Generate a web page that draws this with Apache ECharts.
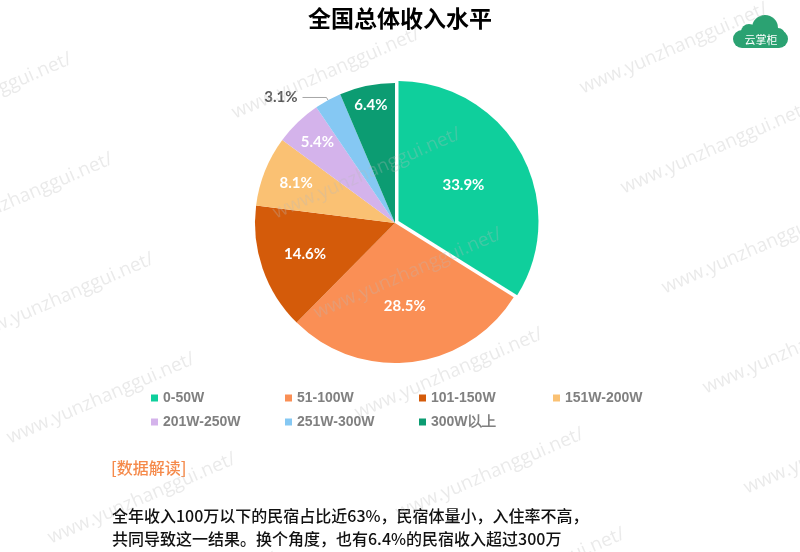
<!DOCTYPE html>
<html>
<head>
<meta charset="utf-8">
<script src="https://cdn.jsdelivr.net/npm/echarts@6/dist/echarts.min.js"></script>
<style>html,body{margin:0;padding:0;background:#fff;}#c{width:800px;height:552px;}</style>
</head>
<body>
<div id="c"></div>
<script>
// ---- data ----
var categories = ['0-50W', '51-100W', '101-150W', '151W-200W', '201W-250W', '251W-300W', '300W以上'];
var shares = [33.9, 28.5, 14.6, 8.1, 5.4, 3.1, 6.4];
var titleText = '全国总体收入水平';
var noteHeading = '[数据解读]';
var noteLines = ['全年收入100万以下的民宿占比近63%，民宿体量小，入住率不高，', '共同导致这一结果。换个角度，也有6.4%的民宿收入超过300万'];
var watermarkText = 'www.yunzhanggui.net/';

// ---- style ----
var colors = ['#0fcf9c', '#fa8f55', '#d45b0a', '#fac173', '#d4b3eb', '#85c8f3', '#0c9c72'];
var outsideIndex = 5;
var labelRadiusRatio = [0.53, 0.6, 0.68, 0.76, 0.8, null, 0.86];
var pieCenter = [395, 223];
var pieRadius = 140;

var chart = echarts.init(document.getElementById('c'), null, {renderer: 'canvas'});

var dataItems = categories.map(function (name, i) {
  var item = {name: name, value: shares[i], itemStyle: {color: colors[i]}};
  if (i === 0) item.selected = true;
  if (i === outsideIndex) {
    item.label = {position: 'outside', color: '#595959'};
    item.labelLine = {show: true, length: 3, length2: 24, lineStyle: {color: '#a6a6a6', width: 1}};
  }
  return item;
});

// watermark lattice
var wm = [];
var A = [460, 133], U = [348, -25], V = [41, 100];
for (var i = -1; i <= 2; i++) {
  for (var j = -2; j <= 5; j++) {
    var ex = A[0] + i * U[0] + j * V[0];
    var ey = A[1] + i * U[1] + j * V[1];
    if (ex < -20 || ey < -10 || ey > 760 || ex - 200 > 820) continue;
    wm.push({
      type: 'text', x: ex, y: ey, rotation: 0.41, z: 100, silent: true,
      style: {text: watermarkText, fill: 'rgba(185,185,185,0.3)', font: '19px "Open Sans"', textAlign: 'right', textVerticalAlign: 'middle'}
    });
  }
}

var graphics = [
  {type: 'text', left: 111, top: 460, style: {text: noteHeading, fill: '#f58a4b', font: '500 16px "Noto Sans CJK SC"'}},
  {type: 'text', left: 112, top: 508, style: {text: noteLines[0], fill: '#111', font: '500 16px "Noto Sans CJK SC"'}},
  {type: 'text', left: 112, top: 531, style: {text: noteLines[1], fill: '#111', font: '500 16px "Noto Sans CJK SC"'}},
  {type: 'group', left: 733, top: 15, children: [
    {type: 'rect', shape: {x: 0, y: 16, width: 55, height: 18, r: 9}, style: {fill: '#2ba272'}},
    {type: 'circle', shape: {cx: 16, cy: 18, r: 8}, style: {fill: '#2ba272'}},
    {type: 'circle', shape: {cx: 32, cy: 14, r: 13}, style: {fill: '#2ba272'}},
    {type: 'circle', shape: {cx: 45, cy: 21, r: 7}, style: {fill: '#2ba272'}},
    {type: 'text', x: 28, y: 26, style: {text: '云掌柜', fill: '#fff', font: '11px "Noto Sans CJK SC"', textAlign: 'center', textVerticalAlign: 'middle'}}
  ]}
].concat(wm);

chart.setOption({
  backgroundColor: '#fff',
  animation: false,
  title: {
    text: titleText, left: 'center', top: 2,
    textStyle: {fontSize: 23, fontWeight: 'bold', color: '#000', fontFamily: 'Noto Sans CJK SC'}
  },
  legend: {
    data: categories,
    left: 151, top: 391, width: 540, padding: 0,
    orient: 'horizontal',
    icon: 'rect', itemWidth: 7, itemHeight: 7, itemGap: 10,
    selectedMode: false,
    textStyle: {color: '#808080', fontSize: 14, fontWeight: 'bold', fontFamily: 'Liberation Sans', width: 112, lineHeight: 13}
  },
  graphic: graphics,
  series: [{
    type: 'pie',
    center: pieCenter,
    radius: pieRadius,
    startAngle: 90,
    clockwise: true,
    selectedMode: 'single',
    selectedOffset: 4,
    avoidLabelOverlap: false,
    label: {
      show: true, position: 'inside', color: '#fff', fontSize: 15, fontWeight: 'bold', fontFamily: 'Lato',
      formatter: function (p) { return p.value.toFixed(1) + '%'; }
    },
    labelLine: {show: false},
    emphasis: {disabled: true},
    labelLayout: function (p) {
      var k = labelRadiusRatio[p.dataIndex];
      if (k == null) return {};
      var lx = p.labelRect.x + p.labelRect.width / 2 - pieCenter[0];
      var ly = p.labelRect.y + p.labelRect.height / 2 - pieCenter[1];
      var d = Math.sqrt(lx * lx + ly * ly) || 1;
      var target = k * pieRadius;
      return {dx: lx / d * (target - d), dy: ly / d * (target - d)};
    },
    data: dataItems
  }]
});
</script>
</body>
</html>
